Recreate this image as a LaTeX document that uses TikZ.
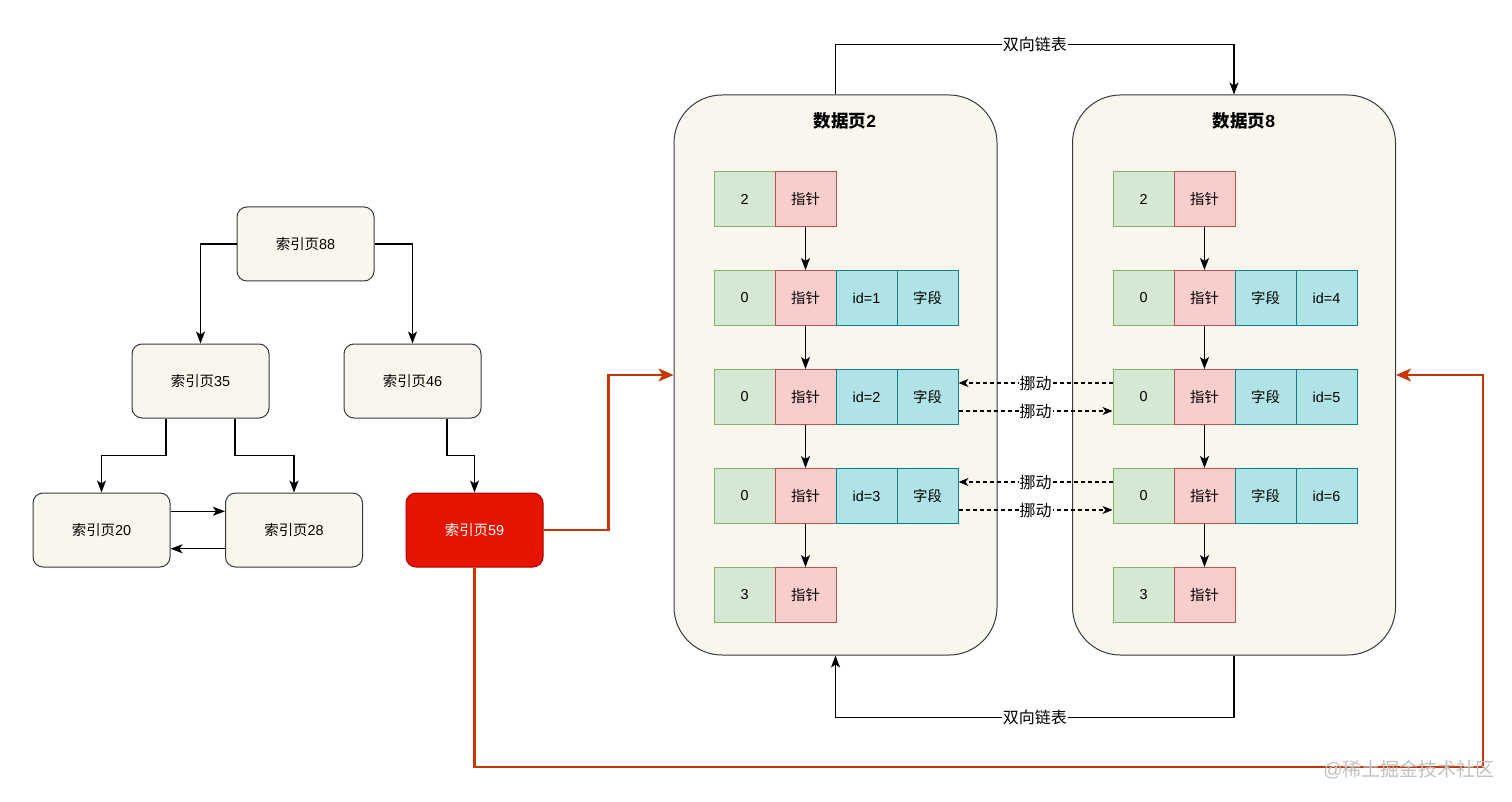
\documentclass[tikz,border=0pt]{standalone}
\usepackage{fontspec}
\setmainfont{Liberation Sans}
\newfontfamily\cjk{Noto Sans CJK SC}
\usetikzlibrary{arrows.meta,calc}
\definecolor{pagebg}{HTML}{F9F7ED}
\definecolor{pagestroke}{HTML}{36393D}
\definecolor{gfill}{HTML}{D5E8D4}\definecolor{gdraw}{HTML}{82B366}
\definecolor{rfill}{HTML}{F8CECC}\definecolor{rdraw}{HTML}{B85450}
\definecolor{cfill}{HTML}{B0E3E6}\definecolor{cdraw}{HTML}{0E8088}
\definecolor{hotfill}{HTML}{E51400}\definecolor{hotdraw}{HTML}{B20000}
\definecolor{redline}{HTML}{C73500}
\newcommand\zh[1]{{\cjk #1}}
\begin{document}
\begin{tikzpicture}[x=1pt,y=-1pt,
  idx/.style={draw=pagestroke, fill=pagebg, rounded corners=10pt, minimum width=137pt, minimum height=74pt, line width=1pt, inner sep=0pt, font=\fontsize{14.4}{17}\selectfont},
  hot/.style={idx, fill=hotfill, draw=hotdraw, text=white},
  page/.style={draw=pagestroke, fill=pagebg, rounded corners=48pt, minimum width=323pt, minimum height=560pt, line width=1pt, inner sep=0pt},
  cell/.style={minimum width=61pt, minimum height=55pt, inner sep=0pt, line width=1pt, font=\fontsize{14.4}{17}\selectfont},
  gc/.style={cell, fill=gfill, draw=gdraw},
  rc/.style={cell, fill=rfill, draw=rdraw},
  cc/.style={cell, fill=cfill, draw=cdraw},
  conn/.style={line width=1.2pt, -{Stealth[length=12pt,width=9pt,inset=3pt]}},
  hotconn/.style={line width=2.2pt, draw=redline, -{Stealth[length=15pt,width=13pt,inset=4pt]}},
  mv/.style={line width=1.2pt, dash pattern=on 4pt off 3pt, -{Stealth[length=10pt,width=8pt,inset=3pt]}},
  lbl/.style={fill=white, inner sep=1pt, font=\fontsize{16}{18}\selectfont\cjk},
  ttl/.style={font=\fontsize{17.5}{20}\selectfont\bfseries}
]
\useasboundingbox (0,0) rectangle (1512,802);

% index pages
\node[idx] (i88) at (305.5,244) {\zh{索引页}88};
\node[idx] (i35) at (200.5,381) {\zh{索引页}35};
\node[idx] (i46) at (412.5,381) {\zh{索引页}46};
\node[idx] (i20) at (101.5,530) {\zh{索引页}20};
\node[idx] (i28) at (294,530) {\zh{索引页}28};
\node[hot] (i59) at (474.5,530) {\zh{索引页}59};

\draw[conn] (i88.west) -| (i35.north);
\draw[conn] (i88.east) -| (i46.north);
\draw[conn] ($(i35.south west)!0.25!(i35.south east)$) -- ++(0,37) -| (i20.north);
\draw[conn] ($(i35.south west)!0.75!(i35.south east)$) -- ++(0,37) -| (i28.north);
\draw[conn] ($(i46.south west)!0.75!(i46.south east)$) -- ++(0,37) -| (i59.north);
\draw[conn] ($(i20.north east)!0.25!(i20.south east)$) -- ($(i28.north west)!0.25!(i28.south west)$);
\draw[conn] ($(i28.north west)!0.75!(i28.south west)$) -- ($(i20.north east)!0.75!(i20.south east)$);

% data pages
\node[page] (dp2) at (835.5,375) {};
\node[page] (dp8) at (1234,375) {};
\node[ttl] (t2) at (845,121) {\zh{数据页}2};
\node[ttl] (t8) at (1244,121) {\zh{数据页}8};

% page 2 cells
\node[gc] (a0g) at (744.5,199) {2};
\node[rc] (a0p) at (805.5,199) {\zh{指针}};
\node[gc] (a1g) at (744.5,298) {0};
\node[rc] (a1p) at (805.5,298) {\zh{指针}};
\node[cc] (a1i) at (866.5,298) {id=1};
\node[cc] (a1f) at (927.5,298) {\zh{字段}};
\node[gc] (a2g) at (744.5,397) {0};
\node[rc] (a2p) at (805.5,397) {\zh{指针}};
\node[cc] (a2i) at (866.5,397) {id=2};
\node[cc] (a2f) at (927.5,397) {\zh{字段}};
\node[gc] (a3g) at (744.5,496) {0};
\node[rc] (a3p) at (805.5,496) {\zh{指针}};
\node[cc] (a3i) at (866.5,496) {id=3};
\node[cc] (a3f) at (927.5,496) {\zh{字段}};
\node[gc] (a4g) at (744.5,595) {3};
\node[rc] (a4p) at (805.5,595) {\zh{指针}};

% page 8 cells
\node[gc] (b0g) at (1143.5,199) {2};
\node[rc] (b0p) at (1204.5,199) {\zh{指针}};
\node[gc] (b1g) at (1143.5,298) {0};
\node[rc] (b1p) at (1204.5,298) {\zh{指针}};
\node[cc] (b1f) at (1265.5,298) {\zh{字段}};
\node[cc] (b1i) at (1326.5,298) {id=4};
\node[gc] (b2g) at (1143.5,397) {0};
\node[rc] (b2p) at (1204.5,397) {\zh{指针}};
\node[cc] (b2f) at (1265.5,397) {\zh{字段}};
\node[cc] (b2i) at (1326.5,397) {id=5};
\node[gc] (b3g) at (1143.5,496) {0};
\node[rc] (b3p) at (1204.5,496) {\zh{指针}};
\node[cc] (b3f) at (1265.5,496) {\zh{字段}};
\node[cc] (b3i) at (1326.5,496) {id=6};
\node[gc] (b4g) at (1143.5,595) {3};
\node[rc] (b4p) at (1204.5,595) {\zh{指针}};

% pointer chains
\draw[conn] (a0p) -- (a1p);
\draw[conn] (a1p) -- (a2p);
\draw[conn] (a2p) -- (a3p);
\draw[conn] (a3p) -- (a4p);
\draw[conn] (b0p) -- (b1p);
\draw[conn] (b1p) -- (b2p);
\draw[conn] (b2p) -- (b3p);
\draw[conn] (b3p) -- (b4p);

% moves
\draw[mv] ($(b2g.north west)!0.25!(b2g.south west)$) -- node[lbl]{挪动} ($(a2f.north east)!0.25!(a2f.south east)$);
\draw[mv] ($(a2f.north east)!0.75!(a2f.south east)$) -- node[lbl]{挪动} ($(b2g.north west)!0.75!(b2g.south west)$);
\draw[mv] ($(b3g.north west)!0.25!(b3g.south west)$) -- node[lbl]{挪动} ($(a3f.north east)!0.25!(a3f.south east)$);
\draw[mv] ($(a3f.north east)!0.75!(a3f.south east)$) -- node[lbl]{挪动} ($(b3g.north west)!0.75!(b3g.south west)$);

% doubly linked list
\draw[conn] (dp2.north) -- ++(0,-50) -| node[lbl,pos=0.25]{双向链表} (dp8.north);
\draw[conn] (dp8.south) -- ++(0,62) -| node[lbl,pos=0.25]{双向链表} (dp2.south);

% red links
\draw[hotconn] (i59.east) -- ++(65,0) |- (dp2.west);
\coordinate (rc) at (1483,767);
\draw[hotconn] (i59.south) |- (rc) |- (dp8.east);

% watermark
\node[text=black!25, font=\fontsize{19}{20}\selectfont] (wm) at (1409,770) {@\zh{稀土掘金技术社区}};
\end{tikzpicture}
\end{document}
